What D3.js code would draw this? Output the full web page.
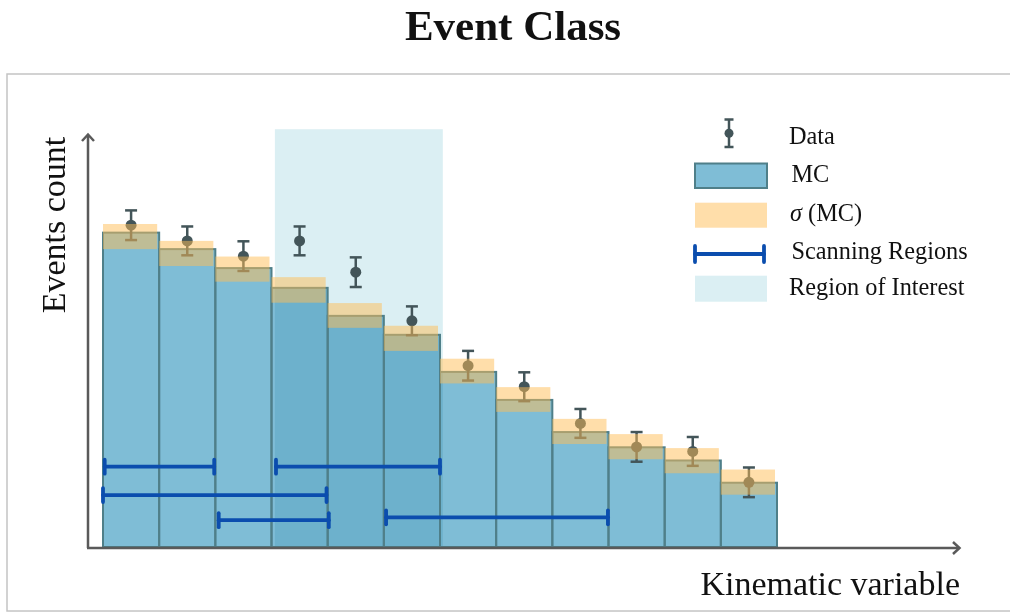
<!DOCTYPE html>
<html>
<head>
<meta charset="utf-8">
<script src="https://cdn.jsdelivr.net/npm/d3@7"></script>
<style>
  html, body { margin: 0; padding: 0; background: #fff; }
  svg { display: block; }
  text { font-family: "Liberation Serif", "Times New Roman", serif; fill: #111; }
</style>
</head>
<body>
<svg id="chart" width="1010" height="612"></svg>
<script>
// ---- data (arbitrary event-count units) ----
const bins        = [1, 2, 3, 4, 5, 6, 7, 8, 9, 10, 11, 12];
const mcValues    = [76.3, 72.3, 67.7, 62.9, 56.1, 51.5, 42.5, 35.7, 27.9, 24.2, 21.0, 15.6];
const sigmaHigh   = [78.4, 74.3, 70.5, 65.5, 59.2, 53.7, 45.7, 38.8, 31.1, 27.4, 24.0, 18.8];
const sigmaLow    = [72.3, 68.2, 64.4, 59.3, 53.2, 47.6, 39.7, 32.8, 25.0, 21.3, 17.9, 12.7];
const dataValues  = [78.1, 74.3, 70.6, 74.3, 66.7, 54.9, 44.0, 38.9, 30.0, 24.3, 23.2, 15.7];
const dataErrors  = [3.6, 3.5, 3.6, 3.5, 3.6, 3.5, 3.6, 3.5, 3.5, 3.6, 3.5, 3.6];
// scanning regions: start / end in bin units, vertical level in count units
const scanStart   = [0.03, 3.08, 0.0, 2.06, 5.04];
const scanEnd     = [1.98, 6.0, 3.98, 4.02, 8.99];
const scanLevel   = [19.5, 19.5, 12.6, 6.5, 7.2];
// region of interest (bin units) and its height
const roiRange    = [3.06, 6.05];
const roiTop      = 101.4;
const legendLabels = ["Data", "MC", "(MC)", "Scanning Regions", "Region of Interest"];

// ---- layout ----
const svg = d3.select("#chart");
const x = d3.scaleLinear().domain([0, bins.length]).range([103, 777]);
const y = d3.scaleLinear().domain([0, 100]).range([547, 135]);

const C = {
  bar: "#7fbdd6", barStroke: "#4f7f89", roi: "#dbeff3",
  band: "rgb(255,189,85)", point: "#435559", scan: "#0b4dae", axis: "#5a5a5a"
};

// frame
svg.append("rect").attr("x", 7).attr("y", 74).attr("width", 1010).attr("height", 537)
  .attr("fill", "none").attr("stroke", "#c4c4c4").attr("stroke-width", 1.5);

// title
svg.append("text").attr("x", 513).attr("y", 40).attr("text-anchor", "middle")
  .attr("font-size", 43).attr("font-weight", "bold").text("Event Class");

const g = svg.append("g");

// region of interest
g.append("rect")
  .attr("x", x(roiRange[0])).attr("width", x(roiRange[1]) - x(roiRange[0]))
  .attr("y", y(roiTop)).attr("height", y(0) - y(roiTop))
  .attr("fill", C.roi);

// MC bars: fills blended over the region of interest, outlines on top
g.append("g").selectAll("rect").data(mcValues).join("rect")
  .attr("x", (d, i) => x(i)).attr("width", (d, i) => x(i + 1) - x(i))
  .attr("y", d => y(d)).attr("height", d => y(0) - y(d))
  .attr("fill", C.bar)
  .style("mix-blend-mode", "multiply");
g.append("g").selectAll("rect").data(mcValues).join("rect")
  .attr("x", (d, i) => x(i)).attr("width", (d, i) => x(i + 1) - x(i))
  .attr("y", d => y(d)).attr("height", d => y(0) - y(d))
  .attr("fill", "none").attr("stroke", C.barStroke).attr("stroke-width", 2);

// data points with error bars
const pts = g.append("g").selectAll("g").data(dataValues).join("g")
  .attr("transform", (d, i) => `translate(${x(i + 0.5)},0)`);
pts.append("line")
  .attr("y1", (d, i) => y(d + dataErrors[i])).attr("y2", (d, i) => y(d - dataErrors[i]))
  .attr("stroke", C.point).attr("stroke-width", 2.5);
pts.append("line").attr("x1", -6).attr("x2", 6)
  .attr("y1", (d, i) => y(d + dataErrors[i])).attr("y2", (d, i) => y(d + dataErrors[i]))
  .attr("stroke", C.point).attr("stroke-width", 2.5);
pts.append("line").attr("x1", -6).attr("x2", 6)
  .attr("y1", (d, i) => y(d - dataErrors[i])).attr("y2", (d, i) => y(d - dataErrors[i]))
  .attr("stroke", C.point).attr("stroke-width", 2.5);
pts.append("circle").attr("cy", d => y(d)).attr("r", 5.5).attr("fill", C.point);

// sigma (MC) band
g.append("g").selectAll("rect").data(sigmaHigh).join("rect")
  .attr("x", (d, i) => x(i)).attr("width", (d, i) => x(i + 1) - x(i) - 2)
  .attr("y", d => y(d)).attr("height", (d, i) => y(sigmaLow[i]) - y(d))
  .attr("fill", C.band).attr("fill-opacity", 0.5);

// scanning regions
const scans = g.append("g").selectAll("g").data(scanStart).join("g")
  .attr("stroke", C.scan).attr("stroke-width", 3.8).attr("stroke-linecap", "round");
scans.append("line")
  .attr("x1", (d) => x(d)).attr("x2", (d, i) => x(scanEnd[i]))
  .attr("y1", (d, i) => y(scanLevel[i])).attr("y2", (d, i) => y(scanLevel[i]));
scans.append("line")
  .attr("x1", d => x(d)).attr("x2", d => x(d))
  .attr("y1", (d, i) => y(scanLevel[i]) - 7).attr("y2", (d, i) => y(scanLevel[i]) + 7);
scans.append("line")
  .attr("x1", (d, i) => x(scanEnd[i])).attr("x2", (d, i) => x(scanEnd[i]))
  .attr("y1", (d, i) => y(scanLevel[i]) - 7).attr("y2", (d, i) => y(scanLevel[i]) + 7);

// axes with arrows
const ax = svg.append("g").attr("stroke", C.axis).attr("stroke-width", 2.5).attr("fill", "none");
ax.append("line").attr("x1", 88).attr("x2", 88).attr("y1", 548).attr("y2", 135);
ax.append("path").attr("d", "M82,141 L88,134.5 L94,141");
ax.append("line").attr("x1", 87).attr("x2", 959).attr("y1", 548).attr("y2", 548);
ax.append("path").attr("d", "M953,542 L959.5,548 L953,554");

// axis labels
svg.append("text").attr("transform", "translate(65,225) rotate(-90)")
  .attr("text-anchor", "middle").attr("font-size", 34).text("Events count");
svg.append("text").attr("x", 960).attr("y", 595).attr("text-anchor", "end")
  .attr("font-size", 34).text("Kinematic variable");

// legend
const L = svg.append("g");
const lx = 695, lw = 72;
// Data
L.append("line").attr("x1", 729).attr("x2", 729).attr("y1", 119.5).attr("y2", 147)
  .attr("stroke", C.point).attr("stroke-width", 2.5);
L.append("line").attr("x1", 724.5).attr("x2", 733.5).attr("y1", 119.5).attr("y2", 119.5)
  .attr("stroke", C.point).attr("stroke-width", 2.5);
L.append("line").attr("x1", 724.5).attr("x2", 733.5).attr("y1", 147).attr("y2", 147)
  .attr("stroke", C.point).attr("stroke-width", 2.5);
L.append("circle").attr("cx", 729).attr("cy", 133.3).attr("r", 4.5).attr("fill", C.point);
// MC
L.append("rect").attr("x", lx).attr("y", 163.5).attr("width", lw).attr("height", 24.5)
  .attr("fill", C.bar).attr("stroke", C.barStroke).attr("stroke-width", 2);
// sigma
L.append("rect").attr("x", lx).attr("y", 202.7).attr("width", lw).attr("height", 25)
  .attr("fill", C.band).attr("fill-opacity", 0.5);
// scanning
const ls = L.append("g").attr("stroke", C.scan).attr("stroke-width", 3.8).attr("stroke-linecap", "round");
ls.append("line").attr("x1", 695).attr("x2", 764).attr("y1", 254).attr("y2", 254);
ls.append("line").attr("x1", 695).attr("x2", 695).attr("y1", 246).attr("y2", 262);
ls.append("line").attr("x1", 764).attr("x2", 764).attr("y1", 246).attr("y2", 262);
// ROI
L.append("rect").attr("x", lx).attr("y", 275.7).attr("width", lw).attr("height", 26)
  .attr("fill", C.roi);

const ltext = [[789, 144.3], [791.5, 181.7], [790, 221], [791.5, 259], [789, 295]];
legendLabels.forEach((t, i) => {
  const tx = L.append("text").attr("x", ltext[i][0]).attr("y", ltext[i][1]).attr("font-size", 24.3);
  if (i === 2) {
    tx.append("tspan").attr("font-style", "italic").text("σ");
    tx.append("tspan").text(" " + t);
  } else tx.text(t);
});
</script>
</body>
</html>
